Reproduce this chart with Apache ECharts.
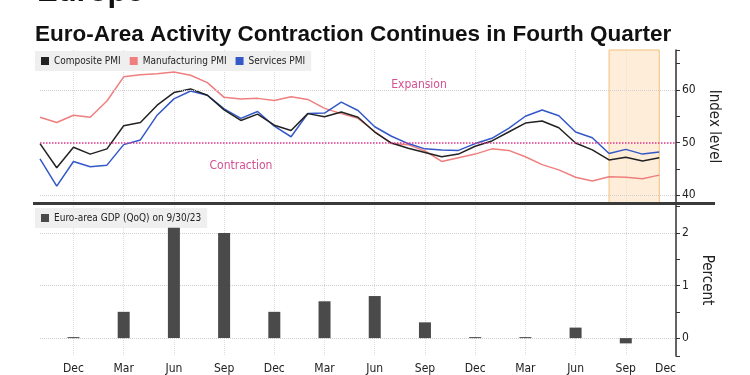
<!DOCTYPE html>
<html>
<head>
<meta charset="utf-8">
<script src="https://cdn.jsdelivr.net/npm/echarts@6/dist/echarts.min.js"></script>
<style>
  html, body { margin: 0; padding: 0; background: #fff; }
  #chart { width: 750px; height: 375px; }
</style>
</head>
<body>
<div id="chart"></div>
<script>
// monthly categories, Oct 2020 .. Dec 2023
const months = [
  '2020-10', '2020-11', '2020-12',
  '2021-01', '2021-02', '2021-03', '2021-04', '2021-05', '2021-06',
  '2021-07', '2021-08', '2021-09', '2021-10', '2021-11', '2021-12',
  '2022-01', '2022-02', '2022-03', '2022-04', '2022-05', '2022-06',
  '2022-07', '2022-08', '2022-09', '2022-10', '2022-11', '2022-12',
  '2023-01', '2023-02', '2023-03', '2023-04', '2023-05', '2023-06',
  '2023-07', '2023-08', '2023-09', '2023-10', '2023-11', '2023-12'
]
const monthNames = ['Jan', 'Feb', 'Mar', 'Apr', 'May', 'Jun', 'Jul', 'Aug', 'Sep', 'Oct', 'Nov', 'Dec']

const composite = [49.8, 45.2, 49.1,
  47.8, 48.8, 53.2, 53.8, 57.1, 59.5, 60.2, 59.0, 56.2, 54.2, 55.4, 53.3,
  52.3, 55.5, 54.9, 55.8, 54.8, 52.0, 49.9, 48.9, 48.1, 47.3, 47.8, 49.3,
  50.3, 52.0, 53.7, 54.1, 52.8, 49.9, 48.6, 46.7, 47.2, 46.5, 47.1]
const manufacturing = [54.8, 53.8, 55.2,
  54.8, 57.9, 62.5, 62.9, 63.1, 63.4, 62.8, 61.4, 58.6, 58.3, 58.4, 58.0,
  58.7, 58.2, 56.5, 55.5, 54.6, 52.1, 49.8, 49.6, 48.4, 46.4, 47.1, 47.8,
  48.8, 48.5, 47.3, 45.8, 44.8, 43.4, 42.7, 43.5, 43.4, 43.1, 43.8]
const services = [46.9, 41.7, 46.4,
  45.4, 45.7, 49.6, 50.5, 55.2, 58.3, 59.8, 59.0, 56.4, 54.6, 55.9, 53.1,
  51.1, 55.5, 55.6, 57.7, 56.1, 53.0, 51.2, 49.8, 48.8, 48.6, 48.5, 49.8,
  50.8, 52.7, 55.0, 56.2, 55.1, 52.0, 50.9, 47.9, 48.7, 47.8, 48.2]

// quarterly GDP (QoQ %), bar at quarter-end month
const gdpQuarters = ['2020-12', '2021-03', '2021-06', '2021-09', '2021-12', '2022-03',
  '2022-06', '2022-09', '2022-12', '2023-03', '2023-06', '2023-09']
const gdpValues = [0.0, 0.5, 2.1, 2.0, 0.5, 0.7, 0.8, 0.3, 0.0, 0.0, 0.2, -0.1]

const indexTicks = [40, 50, 60]
const percentTicks = [0, 1, 2]
const shadeStart = '2023-08'
const shadeEnd = '2023-11'

const font = "'DejaVu Sans Condensed', 'DejaVu Sans', sans-serif"
const titleFont = "'Liberation Sans', Arial, sans-serif"
const isQuarterEnd = (i) => parseInt(months[i].slice(5), 10) % 3 === 0

const chart = echarts.init(document.getElementById('chart'))

const vGrid = {
  show: true,
  interval: (i) => isQuarterEnd(i),
  lineStyle: { color: '#dcdcdc', type: 'dotted', width: 1 }
}
const hGridStyle = { color: '#d0d0d0', type: 'dotted', width: 1 }

const option = {
  animation: false,
  backgroundColor: '#fff',
  textStyle: { fontFamily: font },
  grid: [
    { left: 40, right: 74, top: 50, height: 153 },
    { left: 40, right: 74, top: 204, height: 153 }
  ],
  legend: [
    {
      data: ['Composite PMI', 'Manufacturing PMI', 'Services PMI'],
      left: 35, top: 51,
      backgroundColor: '#efefef',
      padding: [5, 6],
      itemGap: 9, itemWidth: 8, itemHeight: 8,
      icon: 'rect',
      textStyle: { fontSize: 10, color: '#222', fontFamily: font }
    },
    {
      data: ['Euro-area GDP (QoQ) on 9/30/23'],
      left: 35, top: 208,
      backgroundColor: '#efefef',
      padding: [5, 6],
      itemWidth: 8, itemHeight: 8,
      icon: 'rect',
      textStyle: { fontSize: 10, color: '#222', fontFamily: font }
    }
  ],
  xAxis: [
    {
      type: 'category', gridIndex: 0, data: months, boundaryGap: false,
      axisLine: { show: false }, axisTick: { show: false }, axisLabel: { show: false },
      splitLine: vGrid
    },
    {
      type: 'category', gridIndex: 1, data: months, boundaryGap: false,
      axisLine: { show: false }, axisTick: { show: false },
      axisLabel: {
        interval: (i) => isQuarterEnd(i),
        formatter: (v) => monthNames[parseInt(v.slice(5), 10) - 1],
        fontSize: 12, color: '#222', margin: 7, fontFamily: font,
        alignMaxLabel: 'right'
      },
      splitLine: vGrid
    }
  ],
  yAxis: [
    {
      type: 'value', gridIndex: 0, position: 'right',
      min: 38.5, max: 67.6, minInterval: 5, maxInterval: 5,
      axisLine: { show: true, lineStyle: { color: '#333', width: 1.5 } },
      axisTick: { show: true, length: 4, lineStyle: { color: '#333' } },
      axisLabel: {
        formatter: (v) => (indexTicks.includes(v) ? String(v) : ''),
        fontSize: 12, color: '#222', margin: 6, fontFamily: font
      },
      splitLine: { show: false },
      name: 'Index level', nameLocation: 'middle', nameRotate: -90, nameGap: 24,
      nameTextStyle: { fontSize: 15, color: '#222', fontFamily: font }
    },
    {
      type: 'value', gridIndex: 1, position: 'right',
      min: -0.34, max: 2.55, minInterval: 0.5, maxInterval: 0.5,
      axisLine: { show: true, lineStyle: { color: '#333', width: 1.5 } },
      axisTick: { show: true, length: 4, lineStyle: { color: '#333' } },
      axisLabel: {
        formatter: (v) => (percentTicks.includes(v) ? String(v) : ''),
        fontSize: 12, color: '#222', margin: 6, fontFamily: font
      },
      splitLine: { show: false },
      name: 'Percent', nameLocation: 'middle', nameRotate: -90, nameGap: 22,
      nameTextStyle: { fontSize: 15, color: '#222', fontFamily: font }
    }
  ],
  series: [
    {
      name: 'Composite PMI', type: 'line', xAxisIndex: 0, yAxisIndex: 0,
      data: composite, showSymbol: false, color: '#222',
      lineStyle: { width: 1.5, color: '#222' }, z: 4,
      markLine: {
        silent: true, symbol: 'none', label: { show: false },
        data: [
          { yAxis: indexTicks[0], lineStyle: hGridStyle },
          { yAxis: indexTicks[2], lineStyle: hGridStyle },
          { yAxis: indexTicks[1], lineStyle: { color: '#d9358c', type: 'dotted', width: 1.5 } }
        ]
      },
      markArea: {
        silent: true,
        itemStyle: { color: 'rgba(253,226,192,0.6)', borderColor: '#f0c07a', borderWidth: 1 },
        data: [[{ xAxis: shadeStart }, { xAxis: shadeEnd }]]
      }
    },
    {
      name: 'Manufacturing PMI', type: 'line', xAxisIndex: 0, yAxisIndex: 0,
      data: manufacturing, showSymbol: false, color: '#ef7f7f',
      lineStyle: { width: 1.5, color: '#ef7f7f' }, z: 3
    },
    {
      name: 'Services PMI', type: 'line', xAxisIndex: 0, yAxisIndex: 0,
      data: services, showSymbol: false, color: '#3358c8',
      lineStyle: { width: 1.5, color: '#3358c8' }, z: 3
    },
    {
      // carrier for the percent gridlines, drawn under the bars
      name: 'gdp-grid', type: 'line', xAxisIndex: 1, yAxisIndex: 1,
      data: [], z: 1, silent: true,
      markLine: {
        silent: true, symbol: 'none', label: { show: false },
        lineStyle: hGridStyle,
        data: percentTicks.map((v) => ({ yAxis: v }))
      }
    },
    {
      name: 'Euro-area GDP (QoQ) on 9/30/23', type: 'bar', xAxisIndex: 1, yAxisIndex: 1,
      data: gdpQuarters.map((q, i) => [q, gdpValues[i]]),
      barWidth: 12, barMinHeight: 1, color: '#4a4a4a', z: 5
    }
  ],
  graphic: [
    {
      type: 'text', left: 37, top: -23,
      style: { text: 'Europe', fontFamily: titleFont, fontWeight: 'bold', fontSize: 31, fill: '#111' }
    },
    {
      type: 'text', left: 35, top: 23,
      style: { text: 'Euro-Area Activity Contraction Continues in Fourth Quarter',
        fontFamily: titleFont, fontWeight: 'bold', fontSize: 22.5, fill: '#111' }
    },
    {
      type: 'line', z: 10,
      shape: { x1: 33, y1: 203.5, x2: 715, y2: 203.5 },
      style: { stroke: '#3a3a3a', lineWidth: 3 }
    },
    {
      type: 'text', x: 419, y: 85,
      style: { text: 'Expansion', fill: '#d64f94', fontFamily: font, fontSize: 12,
        textAlign: 'center', textVerticalAlign: 'middle' }
    },
    {
      type: 'text', x: 241, y: 166,
      style: { text: 'Contraction', fill: '#d64f94', fontFamily: font, fontSize: 12,
        textAlign: 'center', textVerticalAlign: 'middle' }
    }
  ]
}

chart.setOption(option)
</script>
</body>
</html>
